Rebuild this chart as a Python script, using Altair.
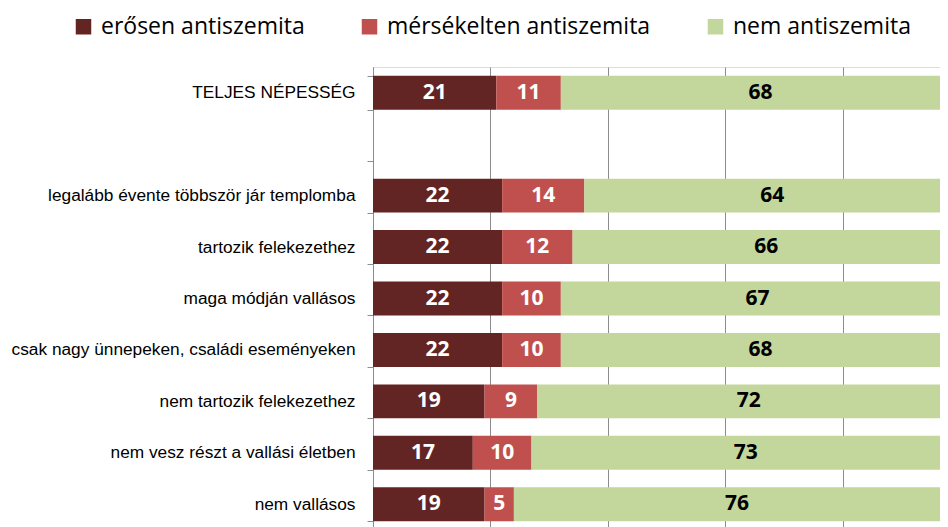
import altair as alt
import pandas as pd

categories = [
    "TELJES NÉPESSÉG",
    " ",
    "legalább évente többször jár templomba",
    "tartozik felekezethez",
    "maga módján vallásos",
    "csak nagy ünnepeken, családi eseményeken",
    "nem tartozik felekezethez",
    "nem vesz részt a vallási életben",
    "nem vallásos",
]
series = ["erősen antiszemita", "mérsékelten antiszemita", "nem antiszemita"]
strong = [21, None, 22, 22, 22, 22, 19, 17, 19]
moderate = [11, None, 14, 12, 10, 10, 9, 10, 5]
non = [68, None, 64, 66, 67, 68, 72, 73, 76]

colors = ["#632523", "#C0504D", "#C3D69B"]
grid_gray = "#8c8c8c"

rows = []
for i, c in enumerate(categories):
    for j, vals in enumerate([strong, moderate, non]):
        v = vals[i]
        if v is None:
            continue
        rows.append({"cat": c, "series": series[j], "value": v, "ord": j})
df = pd.DataFrame(rows)

base = alt.Chart(df).transform_stack(
    stack="value", groupby=["cat"], as_=["x0", "x1"], sort=[alt.SortField("ord")]
).transform_calculate(mid="(datum.x0 + datum.x1) / 2")

xscale = alt.Scale(domain=[0, 96.59], nice=False, zero=False)
yscale = alt.Scale(domain=categories, paddingInner=0.34, paddingOuter=0.17)

bars = base.mark_bar(clip=True).encode(
    x=alt.X(
        "x0:Q",
        scale=xscale,
        axis=alt.Axis(
            values=[0, 20, 40, 60, 80],
            grid=True,
            gridColor=grid_gray,
            gridWidth=1,
            labels=False,
            ticks=False,
            domain=False,
            title=None,
        ),
    ),
    x2="x1:Q",
    y=alt.Y(
        "cat:N",
        scale=yscale,
        sort=categories,
        axis=alt.Axis(
            title=None,
            grid=False,
            domainColor=grid_gray,
            tickColor=grid_gray,
            tickSize=6,
            tickBand="extent",
            labelFont="Liberation Sans",
            labelFontSize=17.3,
            labelColor="black",
            labelPadding=12,
            labelLimit=400,
        ),
    ),
    color=alt.Color(
        "series:N",
        scale=alt.Scale(domain=series, range=colors),
        legend=alt.Legend(
            orient="none",
            legendX=-301,
            legendY=-52,
            direction="horizontal",
            title=None,
            symbolType="square",
            symbolSize=240,
            symbolStrokeWidth=0,
            labelFont="Open Sans",
            labelFontSize=23,
            labelColor="black",
            labelOffset=6,
            columnPadding=53,
            padding=0,
            labelLimit=400,
        ),
    ),
    order=alt.Order("ord:Q"),
)

text_white = base.transform_filter("datum.ord < 2").mark_text(
    font="Open Sans", fontWeight="bold", fontSize=21, color="white", baseline="middle"
).encode(
    x=alt.X("mid:Q", scale=xscale),
    y=alt.Y("cat:N", scale=yscale, sort=categories),
    text="value:Q",
)
text_black = base.transform_filter("datum.ord == 2").mark_text(
    font="Open Sans", fontWeight="bold", fontSize=21, color="black", baseline="middle"
).encode(
    x=alt.X("mid:Q", scale=xscale),
    y=alt.Y("cat:N", scale=yscale, sort=categories),
    text="value:Q",
)

chart = alt.layer(bars, text_white, text_black).properties(
    width=567,
    height=463,
    autosize=alt.AutoSizeParams(type="none"),
    padding={"left": 365, "top": 59, "right": 0, "bottom": 0},
).configure_view(stroke=None).configure(background="white")

chart.save("out.html", embed_options={"renderer": "svg", "actions": False})
